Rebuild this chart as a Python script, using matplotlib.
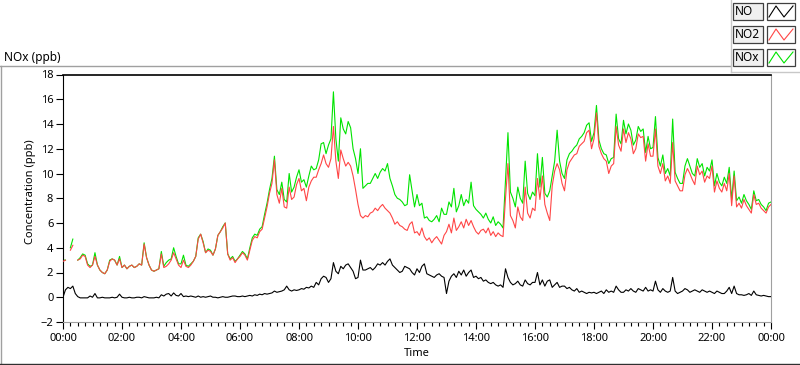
import numpy as np
import matplotlib
matplotlib.use("Agg")
import matplotlib.pyplot as plt
from matplotlib.lines import Line2D
from matplotlib.patches import Rectangle

plt.rcParams['font.family'] = ['Noto Sans', 'DejaVu Sans']

nan = np.nan

# 5-minute samples, 00:00 .. 24:00 (12 values per hour + final point)
no = [
    0.0, 0.6, 0.8, 0.7, 0.9, 0.3, 0.05, -0.05, -0.05, -0.05, -0.05, 0.1,      # 00h
    0.0, 0.3, -0.05, -0.05, 0.0, -0.05, -0.05, -0.05, 0.0, -0.05, 0.0, 0.25,  # 01h
    0.0, -0.05, -0.05, 0.0, -0.05, -0.05, 0.0, 0.0, -0.05, 0.05, 0.0, -0.05,  # 02h
    -0.05, -0.05, 0.0, -0.05, 0.2, 0.1, 0.25, 0.3, 0.1, 0.35, 0.15, 0.1,      # 03h
    0.3, 0.05, 0.1, 0.05, 0.1, 0.05, 0.0, 0.1, 0.0, 0.05, 0.0, 0.05,          # 04h
    0.1, 0.0, 0.0, -0.05, 0.0, 0.05, 0.0, 0.0, 0.05, 0.1, 0.1, 0.05,          # 05h
    0.05, 0.1, 0.05, 0.1, 0.15, 0.1, 0.2, 0.15, 0.25, 0.2, 0.3, 0.25,         # 06h
    0.3, 0.35, 0.5, 0.4, 0.45, 0.5, 0.6, 0.9, 0.6, 0.5, 0.6, 0.55,            # 07h
    0.6, 0.7, 0.65, 0.8, 0.75, 0.9, 0.8, 1.2, 1.0, 1.5, 1.7, 1.6,             # 08h
    1.2, 1.5, 2.8, 2.1, 1.9, 2.5, 2.3, 2.6, 2.7, 2.4, 2.1, 1.5,               # 09h
    1.6, 3.0, 2.2, 2.2, 2.3, 2.4, 2.2, 2.4, 2.7, 2.6, 2.8, 2.6,               # 10h
    2.9, 3.1, 2.6, 2.4, 2.2, 2.0, 2.1, 2.5, 2.4, 2.3, 2.0, 1.8,               # 11h
    2.3, 2.0, 2.5, 2.7, 1.9, 1.8, 1.7, 1.6, 1.8, 1.9, 1.7, 1.6,               # 12h
    0.3, 1.3, 1.7, 1.9, 1.6, 2.1, 1.8, 2.2, 1.7, 2.0, 2.2, 1.6,               # 13h
    1.7, 1.5, 1.6, 1.3, 1.4, 1.2, 1.1, 1.2, 1.0, 0.9, 1.0, 0.8,               # 14h
    2.3, 1.6, 1.2, 1.0, 1.1, 1.3, 1.0, 0.9, 1.4, 1.1, 1.0, 1.2,               # 15h
    1.2, 2.0, 1.0, 1.4, 0.9, 1.3, 1.4, 0.8, 1.0, 1.2, 0.8, 0.9,               # 16h
    0.9, 0.7, 0.8, 0.6, 0.5, 0.7, 0.4, 0.5, 0.4, 0.3, 0.4, 0.35,              # 17h
    0.4, 0.3, 0.4, 0.5, 0.3, 0.6, 0.4, 0.5, 0.4, 0.9, 0.6, 0.4,               # 18h
    0.4, 0.6, 0.5, 0.7, 0.5, 0.4, 0.7, 0.6, 0.5, 0.8, 0.5, 0.6,               # 19h
    0.5, 1.3, 0.6, 0.4, 0.7, 0.5, 0.4, 0.5, 1.6, 0.5, 0.3, 0.4,               # 20h
    0.5, 0.7, 0.6, 0.4, 0.5, 0.6, 0.5, 0.4, 0.6, 0.5, 0.4, 0.5,               # 21h
    0.4, 0.3, 0.5, 0.4, 0.3, 0.3, 0.5, 0.8, 0.3, 0.9, 0.3, 0.2,               # 22h
    0.2, 0.15, 0.2, 0.3, 0.15, 0.5, 0.2, 0.15, 0.1, 0.15, 0.1, 0.05,          # 23h
    0.05,
]

no2 = [
    2.9, 3.0, nan, 3.8, 4.2, nan, 3.0, 3.1, 3.4, 3.3, 2.6, 2.4,
    2.6, 3.3, 2.6, 2.2, 2.0, 1.9, 2.2, 2.9, 3.1, 3.0, 2.6, 3.1,
    2.4, 2.6, 2.3, 2.5, 2.6, 2.4, 2.5, 2.7, 2.6, 4.3, 3.2, 2.6,
    2.2, 2.1, 2.2, 2.3, 3.5, 2.4, 2.5, 2.7, 3.0, 3.6, 3.1, 2.6,
    2.4, 3.0, 2.5, 2.4, 2.6, 2.9, 3.3, 4.7, 5.1, 4.4, 3.6, 3.8,
    3.7, 3.4, 3.9, 5.0, 5.3, 5.6, 6.0, 3.5, 3.0, 3.2, 2.8, 3.1,
    3.3, 3.6, 3.4, 3.0, 3.8, 4.6, 4.9, 4.8, 5.3, 5.5, 6.4, 7.3,
    8.4, 9.2, 11.1, 8.3, 7.6, 8.8, 7.3, 7.2, 8.9, 7.9, 8.1, 9.1,
    9.6, 8.6, 8.8, 7.8, 8.9, 9.4, 9.7, 9.7, 10.3, 10.8, 11.5, 10.8,
    10.5, 11.2, 13.8, 11.0, 9.6, 11.9, 11.2, 10.6, 10.9, 10.6, 9.8, 8.7,
    7.5, 6.6, 6.4, 6.6, 6.5, 6.8, 6.9, 7.2, 7.0, 7.3, 7.5, 7.2,
    7.0, 6.8, 6.4, 5.9, 6.1, 5.8, 5.7, 5.5, 5.4, 5.9, 6.1, 5.2,
    5.3, 5.0, 5.6, 4.9, 4.6, 4.8, 4.4, 4.7, 4.9, 4.6, 4.3, 5.0,
    5.3, 5.9, 5.2, 6.4, 5.4, 5.7, 6.1, 5.6, 6.3, 5.8, 6.2, 5.7,
    5.3, 5.1, 5.4, 5.5, 5.2, 5.6, 5.0, 5.3, 4.9, 5.2, 5.0, 4.9,
    8.0, 10.8, 6.6, 6.2, 5.6, 7.3, 6.5, 6.2, 8.9, 6.8, 6.4, 7.2,
    7.0, 9.6, 7.9, 9.8, 7.5, 6.8, 6.2, 9.0, 10.2, 10.8, 10.3, 9.2,
    8.6, 10.3, 10.9, 11.2, 11.5, 11.6, 12.2, 12.4, 12.6, 13.3, 13.5, 12.0,
    12.8, 14.9, 12.2, 11.6, 11.2, 11.0, 10.0, 10.6, 10.8, 13.8, 12.3, 11.8,
    13.6, 12.5, 13.3, 12.8, 11.6, 12.0, 13.2, 12.9, 13.0, 11.0, 12.4, 11.4,
    11.4, 13.6, 10.6, 10.0, 10.8, 9.4, 9.8, 9.2, 12.5, 9.4, 9.0, 8.6,
    8.6, 9.9, 10.4, 10.0, 9.5, 9.1, 10.6, 9.9, 10.2, 9.3, 9.8, 9.6,
    10.6, 8.5, 9.4, 8.8, 8.5, 9.2, 8.6, 10.0, 7.4, 9.8, 7.3, 7.6,
    7.2, 7.9, 7.4, 7.1, 6.8, 8.3, 7.5, 7.6, 7.2, 7.0, 6.8, 7.3,
    7.5,
]

nox = [
    3.0, 3.0, nan, 4.0, 4.7, nan, 3.0, 3.2, 3.5, 3.4, 2.7, 2.5,
    2.6, 3.6, 2.6, 2.2, 2.0, 1.9, 2.2, 3.0, 3.1, 3.0, 2.6, 3.3,
    2.4, 2.6, 2.3, 2.5, 2.6, 2.4, 2.5, 2.7, 2.6, 4.4, 3.2, 2.6,
    2.2, 2.1, 2.2, 2.3, 3.7, 2.5, 2.8, 3.0, 3.1, 4.0, 3.3, 2.7,
    2.7, 3.4, 2.6, 2.5, 2.7, 2.9, 3.3, 4.8, 5.1, 4.5, 3.6, 3.9,
    3.8, 3.4, 3.9, 5.0, 5.3, 5.7, 6.0, 3.5, 3.1, 3.3, 2.9, 3.1,
    3.4, 3.7, 3.5, 3.1, 4.0, 4.8, 5.1, 5.0, 5.5, 5.7, 6.7, 7.6,
    8.7, 9.6, 11.4, 8.7, 8.3, 9.3, 7.9, 7.7, 10.0, 8.5, 8.9, 9.7,
    10.3, 9.3, 9.5, 8.9, 9.8, 10.6, 10.3, 10.4, 11.1, 12.4, 12.5, 11.6,
    12.3, 12.8, 16.6, 12.8, 11.0, 14.5, 13.6, 13.2, 14.2, 13.7, 12.0, 11.2,
    10.0, 12.0, 8.8, 9.0, 9.2, 9.2, 9.6, 10.0, 9.6, 10.1, 10.4, 10.2,
    10.8, 9.6, 9.0, 8.3, 8.0, 7.9, 7.7, 7.4, 7.5, 9.9, 8.6, 7.3,
    8.3, 7.4, 7.6, 6.4, 6.5, 6.2, 6.1, 6.3, 6.6, 6.1, 7.2, 6.7,
    6.7, 7.7, 7.3, 8.8, 6.9, 7.4, 8.3, 7.4, 7.9, 7.6, 9.3, 7.4,
    7.1, 6.9, 6.7, 6.4, 6.8, 6.3, 6.0, 6.5, 5.8, 6.1, 5.9, 5.6,
    9.5, 13.3, 8.5, 8.0, 7.3, 8.9, 8.0, 7.6, 11.0, 8.4, 7.9, 8.5,
    8.2, 11.6, 8.9, 11.3, 8.4, 8.1, 8.6, 9.8, 11.0, 13.5, 11.0, 10.0,
    9.6, 11.1, 11.6, 11.8, 12.1, 12.3, 12.8, 13.0, 13.3, 13.9, 14.1, 12.6,
    13.3, 15.5, 12.7, 12.0, 11.6, 11.5, 10.8, 11.2, 11.3, 14.8, 12.8, 12.4,
    14.3, 13.2, 14.0, 13.5, 12.3, 12.7, 13.8, 13.4, 13.6, 11.7, 13.0, 12.0,
    12.1, 14.6, 11.3, 10.6, 11.5, 10.0, 10.4, 9.8, 14.4, 10.1, 9.6, 9.2,
    9.2, 10.6, 11.2, 10.6, 10.0, 9.8, 11.2, 10.5, 10.8, 9.8, 10.5, 10.2,
    11.1, 9.0, 10.0, 9.3, 9.0, 9.7, 9.2, 10.5, 7.9, 10.2, 7.8, 8.1,
    7.6, 8.3, 7.8, 7.5, 7.1, 8.6, 7.8, 7.9, 7.5, 7.3, 7.0, 7.6,
    7.7,
]

series_names = ['NO', 'NO2', 'NOx']
series_colors = ['black', '#ff4646', '#00e400']
hour_ticks = list(range(0, 25, 2))
hour_labels = ['00:00', '02:00', '04:00', '06:00', '08:00', '10:00', '12:00',
               '14:00', '16:00', '18:00', '20:00', '22:00', '00:00']
y_ticks = list(range(-2, 19, 2))

t = np.arange(len(no2)) * 5 / 60.0

W, H = 800, 365
fig = plt.figure(figsize=(W / 100, H / 100), dpi=100)


def fx(x):
    return x / W


def fy(y):
    return 1 - y / H


ax = fig.add_axes([fx(63), fy(322), fx(771) - fx(63), fy(74.5) - fy(322)])

ax.plot(t, nox, color=series_colors[2], lw=0.8, zorder=2)
ax.plot(t, no2, color=series_colors[1], lw=0.8, zorder=3)
ax.plot(t, no, color=series_colors[0], lw=0.8, zorder=4)

ax.set_xlim(0, 24)
ax.set_ylim(-2, 18)
ax.set_xticks(hour_ticks)
ax.set_xticklabels(hour_labels)
ax.set_xticks(np.arange(0, 24.01, 0.25), minor=True)
ax.set_yticks(y_ticks)
ax.tick_params(axis='x', which='major', length=5, width=0.8, labelsize=8, pad=3)
ax.tick_params(axis='x', which='minor', length=3, width=0.8)
ax.tick_params(axis='y', length=5, width=0.8, labelsize=8, pad=2)

ax.spines['top'].set_color('black')
ax.spines['top'].set_linewidth(1.2)
ax.spines['left'].set_color('black')
ax.spines['right'].set_color('#a0a0a0')
ax.spines['bottom'].set_color('#a0a0a0')

fig.text(fx(31), fy(192), 'Concentration (ppb)', rotation=90, ha='center',
         va='center', fontsize=8)
fig.text(fx(417), fy(354), 'Time', ha='center', va='center', fontsize=8)
fig.text(fx(4), fy(57), 'NOx (ppb)', ha='left', va='center', fontsize=8.5)

# outer frame
fig.add_artist(Line2D([fx(0), fx(731)], [fy(65.5), fy(65.5)], color='#a0a0a0', lw=1))
fig.add_artist(Line2D([fx(0.5), fx(0.5)], [fy(65.5), fy(364)], color='#a0a0a0', lw=1))
fig.add_artist(Line2D([fx(0), fx(800)], [fy(364), fy(364)], color='#303030', lw=1))

# legend panel
fig.add_artist(Line2D([fx(731), fx(731)], [fy(0), fy(72)], color='#c8c8c8', lw=1))
fig.add_artist(Line2D([fx(731), fx(800)], [fy(72), fy(72)], color='#c8c8c8', lw=1))
for i, (name, col) in enumerate(zip(series_names, series_colors)):
    top = 3 + 23 * i
    fig.add_artist(Rectangle((fx(733), fy(top + 17)), fx(30), fy(0) - fy(17),
                             transform=fig.transFigure, facecolor='#f0f0f0',
                             edgecolor='#404040', lw=0.9))
    fig.add_artist(Rectangle((fx(767), fy(top + 17)), fx(28), fy(0) - fy(17),
                             transform=fig.transFigure, facecolor='white',
                             edgecolor='#404040', lw=0.9))
    fig.text(fx(735), fy(top + 8.5), name, ha='left', va='center', fontsize=8.5)
    zx = [fx(769), fx(776), fx(784), fx(793)]
    zy = [fy(top + 14), fy(top + 3), fy(top + 14), fy(top + 3)]
    fig.add_artist(Line2D(zx, zy, color=col, lw=0.8))

fig.savefig('out.png', dpi=100)
